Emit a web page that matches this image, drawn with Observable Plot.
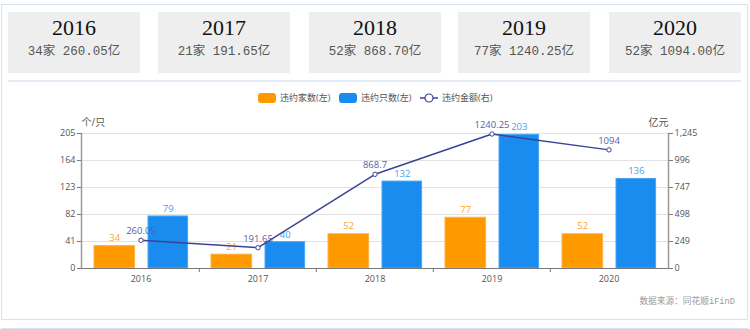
<!DOCTYPE html>
<html><head><meta charset="utf-8">
<script src="https://cdn.jsdelivr.net/npm/d3@7"></script>
<script src="https://cdn.jsdelivr.net/npm/@observablehq/plot@0.6"></script>
<style>
html,body{margin:0;padding:0;}
body{width:750px;height:329px;position:relative;overflow:hidden;background:#fff;font-family:"Open Sans","Noto Sans CJK SC",sans-serif;}
.box{position:absolute;left:1px;top:4px;width:747px;height:316px;box-sizing:border-box;border:1px solid #d6e3f1;}
.box2{position:absolute;left:1px;top:328px;width:747px;height:10px;box-sizing:border-box;border:1px solid #d6e3f1;}
.sep{position:absolute;left:8px;top:80px;width:733px;height:2px;background:#e4ecf7;}
.card{position:absolute;top:12px;width:132px;height:61px;background:#eeeeee;text-align:center;}
.card .yr{position:absolute;left:0;right:0;top:3px;font:22px/25px "Liberation Serif","Noto Sans CJK SC",serif;color:#111;}
.card .sub{position:absolute;left:0;right:0;top:32px;font:12.5px/17px "Liberation Mono","Noto Sans CJK SC",monospace;color:#555;white-space:pre;}
#chart{position:absolute;left:0;top:80px;}
.legend{position:absolute;top:91px;left:258px;height:14px;font-size:9px;line-height:14px;color:#555;white-space:nowrap;}
.legend .it{position:absolute;top:0;}
.legend .sw{position:absolute;top:2px;width:18px;height:10px;border-radius:3px;}
.legend .tx{position:absolute;top:0;}
.caption{position:absolute;right:15px;top:295px;font:8.7px/14px "Liberation Mono","Noto Sans CJK SC",monospace;color:#999;}
</style>
</head><body>
<div class="box"></div>
<div class="box2"></div>
<div class="sep"></div>
<div id="cards"></div>
<div class="legend" id="legend"></div>
<div id="chart"></div>
<div class="caption" id="caption"></div>
<script>
const years = ["2016", "2017", "2018", "2019", "2020"];
const companies = [34, 21, 52, 77, 52];          // 违约家数(左)
const bonds = [79, 40, 132, 203, 136];           // 违约只数(左)
const amounts = [260.05, 191.65, 868.70, 1240.25, 1094.00]; // 违约金额(右), 亿元
const amountLabels = ["260.05", "191.65", "868.7", "1240.25", "1094"];
const leftTicks = [0, 41, 82, 123, 164, 205];
const rightTicks = [0, 249, 498, 747, 996, 1245];
const seriesNames = ["违约家数(左)", "违约只数(左)", "违约金额(右)"];
const leftTitle = "个/只";
const rightTitle = "亿元";
const captionText = "数据来源：同花顺iFinD";

const cOrange = "#ff9900", cBlue = "#1a8cf0", cLine = "#3c4396";
const leftMax = leftTicks[leftTicks.length - 1];
const rightMax = rightTicks[rightTicks.length - 1];

// cards
const cardLefts = [8, 158, 309, 458, 609];
const cardsEl = document.getElementById("cards");
years.forEach((y, i) => {
  const c = document.createElement("div");
  c.className = "card";
  c.style.left = cardLefts[i] + "px";
  c.innerHTML = `<div class="yr">${y}</div><div class="sub">${companies[i]}家 ${amounts[i].toFixed(2)}亿</div>`;
  cardsEl.appendChild(c);
});

// legend
const lg = document.getElementById("legend");
lg.innerHTML =
  `<span class="it" style="left:0"><span class="sw" style="left:0;background:${cOrange}"></span><span class="tx" style="left:22px">${seriesNames[0]}</span></span>` +
  `<span class="it" style="left:81px"><span class="sw" style="left:0;background:${cBlue}"></span><span class="tx" style="left:22px">${seriesNames[1]}</span></span>` +
  `<span class="it" style="left:162px"><svg width="18" height="14" style="position:absolute;left:0;top:0"><line x1="0" x2="18" y1="7" y2="7" stroke="${cLine}" stroke-width="1.5"/><circle cx="9" cy="7" r="4" fill="#fff" stroke="${cLine}" stroke-width="1.2"/></svg><span class="tx" style="left:22px">${seriesNames[2]}</span></span>`;

document.getElementById("caption").textContent = captionText;

const rows = years.map((y, i) => ({
  year: y, companies: companies[i], bonds: bonds[i],
  amount: amounts[i], amountL: amounts[i] * leftMax / rightMax, label: amountLabels[i]
}));

const W = 750, ML = 81, MR = 82;
const bw = (W - ML - MR) / years.length;
const fmt = d3.format(",");

const chart = Plot.plot({
  width: W, height: 220,
  marginLeft: ML, marginRight: MR, marginTop: 53, marginBottom: 32,
  style: {fontFamily: '"Open Sans","Noto Sans CJK SC",sans-serif', fontSize: "9px", color: "#555", background: "transparent", overflow: "visible"},
  x: {type: "band", domain: years, padding: 0, label: null},
  y: {domain: [0, leftMax], label: null},
  marks: [
    Plot.gridY(leftTicks, {stroke: "#e2e2e2", strokeOpacity: 1, strokeWidth: 1}),
    Plot.barY(rows, {x: "year", y: "companies", fill: cOrange, stroke: "#ffb040", strokeWidth: 1, insetLeft: 12, insetRight: bw - 53}),
    Plot.barY(rows, {x: "year", y: "bonds", fill: cBlue, stroke: "#49a6f6", strokeWidth: 1, insetLeft: 66, insetRight: bw - 106}),
    Plot.text(rows, {x: "year", y: "companies", text: d => String(d.companies), dx: 32.5 - bw / 2, dy: -8, fill: "#ffa424", fontSize: 9.5}),
    Plot.text(rows, {x: "year", y: "bonds", text: d => String(d.bonds), dx: 86 - bw / 2, dy: -7.5, fill: "#3f9ff2", fontSize: 9.5}),
    Plot.line(rows, {x: "year", y: "amountL", stroke: cLine, strokeWidth: 1.5}),
    Plot.dot(rows, {x: "year", y: "amountL", r: 2.2, fill: "#fff", stroke: cLine, strokeWidth: 1}),
    Plot.text(rows, {x: "year", y: "amountL", text: "label", dy: -9, fill: "#5a5ea6", fontSize: 9.5}),
    Plot.ruleY([0], {stroke: "#777", strokeWidth: 1.2}),
    Plot.frame({anchor: "left", stroke: "#999", strokeWidth: 1.5}),
    Plot.frame({anchor: "right", stroke: "#999", strokeWidth: 1.5}),
    Plot.axisY({ticks: leftTicks, anchor: "left", tickSize: 4, tickPadding: 2, label: null, stroke: "#777"}),
    Plot.axisY({ticks: leftTicks, anchor: "right", tickSize: 4, tickPadding: 2, label: null, stroke: "#777",
      tickFormat: d => fmt(rightTicks[leftTicks.indexOf(d)])}),
    Plot.axisX({tickSize: 0, tickPadding: 7, label: null}),
    Plot.axisX(years.slice(1), {tickSize: 4, dx: -bw / 2, tickFormat: () => "", label: null, stroke: "#777"}),
    Plot.text([leftTitle], {text: d => d, frameAnchor: "top-left", dy: -15, fontSize: 10, fill: "#555"}),
    Plot.text([rightTitle], {text: d => d, frameAnchor: "top-right", dy: -15, fontSize: 10, fill: "#555"})
  ]
});
document.getElementById("chart").appendChild(chart);
</script>
</body></html>
